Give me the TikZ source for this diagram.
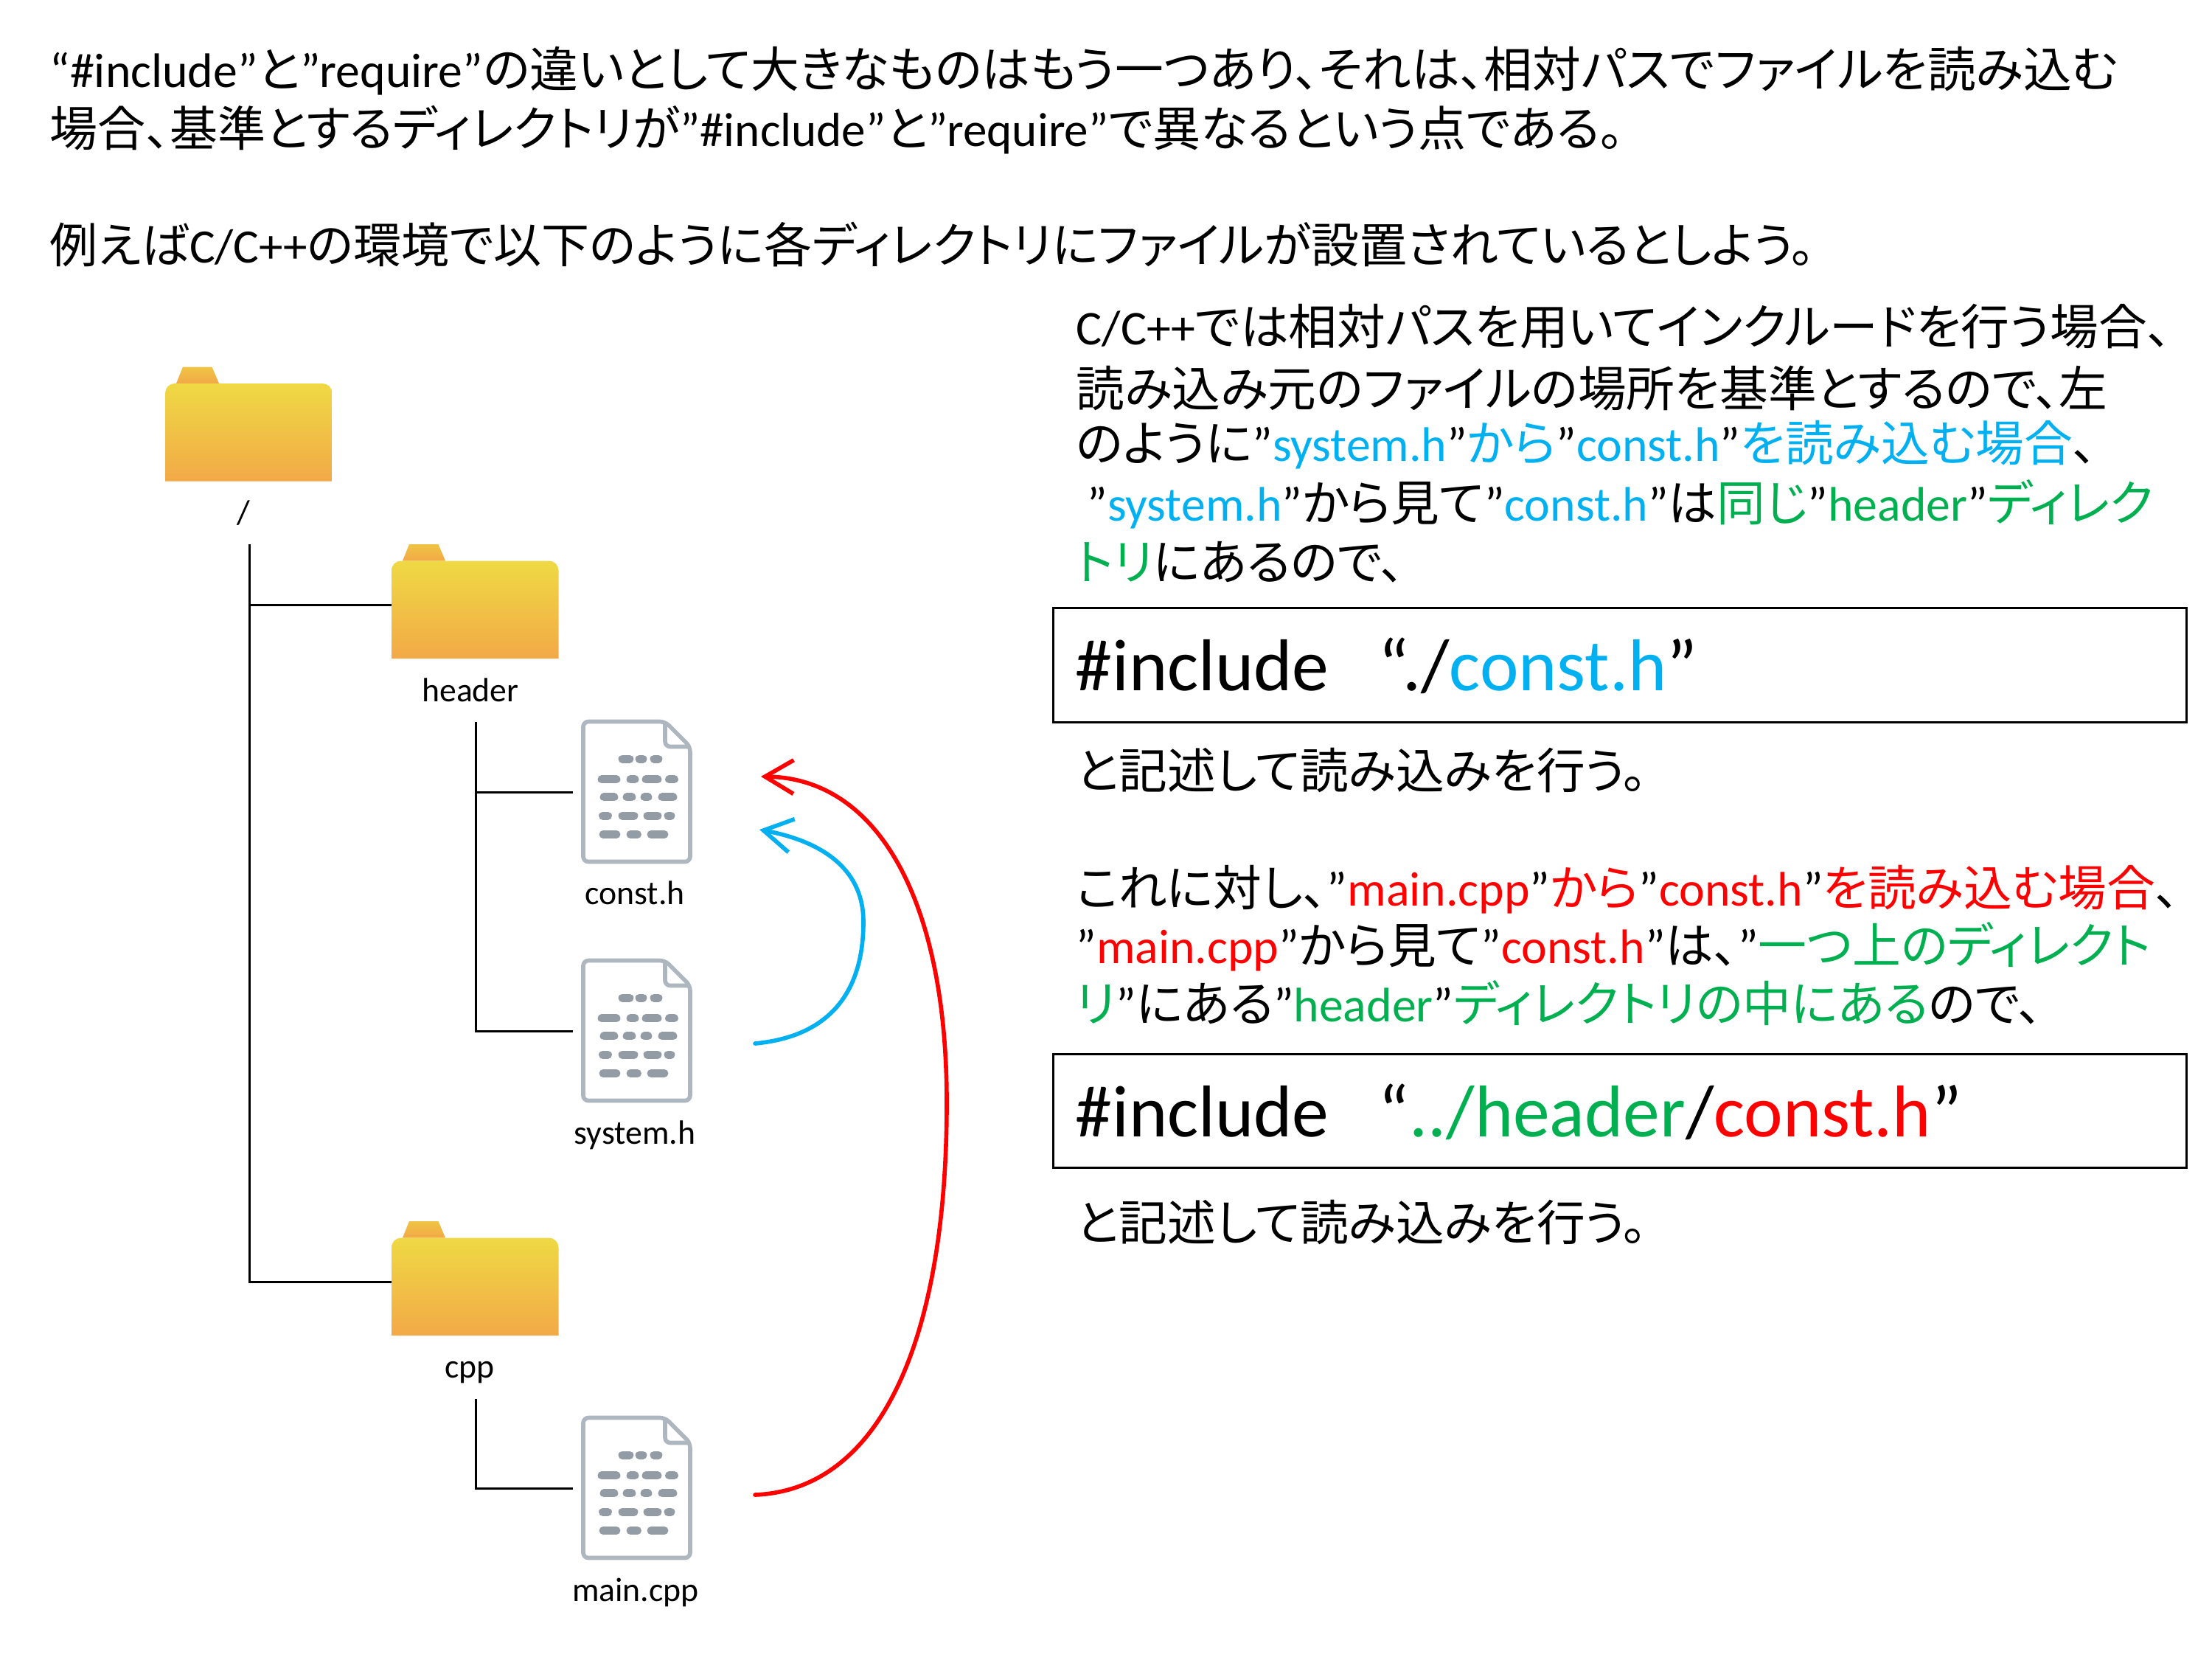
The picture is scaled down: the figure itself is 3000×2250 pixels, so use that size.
\documentclass[tikz,border=0pt]{standalone}
\usepackage{fontspec}
\setmainfont{Noto Sans CJK JP}[RawFeature=+palt]
\newfontfamily\carlito{Carlito}
\usetikzlibrary{arrows.meta}

\definecolor{bluetext}{HTML}{00B0F0}
\definecolor{greentext}{HTML}{00B050}
\definecolor{folderhi}{HTML}{EFD944}
\definecolor{folderlo}{HTML}{F2A947}
\definecolor{tabhi}{HTML}{EFC443}
\definecolor{fileline}{HTML}{AEB6BF}
\definecolor{filedot}{HTML}{939BA5}

\newcommand{\lat}[1]{{\carlito #1}}
\newcommand{\bl}[1]{\textcolor{bluetext}{#1}}
\newcommand{\gr}[1]{\textcolor{greentext}{#1}}
\newcommand{\rd}[1]{\textcolor{red}{#1}}

\tikzset{
  textline/.style={anchor=base west, inner sep=0pt, font=\fontsize{18.7}{22}\selectfont},
  introline/.style={textline, font=\fontsize{18.5}{22}\selectfont},
  codeline/.style={anchor=base west, inner sep=0pt, font=\fontsize{28.3}{34}\selectfont},
  codebox/.style={draw=black, line width=0.85pt},
  filelabel/.style={anchor=base, inner sep=0pt, font=\fontsize{13}{15}\selectfont\carlito},
  treeline/.style={draw=black, line width=0.85pt},
  curve/.style={line width=1.6pt, line cap=round, -{Straight Barb[length=11pt,width=13pt,line width=1.6pt]}},
  folder/.pic={
    \shade[top color=tabhi, bottom color=folderlo] (15,22.5) -- (24,0) -- (63.5,0) -- (73,22.5) -- cycle;
    \shade[top color=folderhi, bottom color=folderlo] (0,155) [rounded corners=3.7pt] -- (0,22.5) -- (226.5,22.5) [sharp corners] -- (226.5,155) -- cycle;
    \coordinate (-link) at (0,82.5);
  },
  fileicon/.pic={
    \draw[fileline, line width=1.6pt, rounded corners=2pt] (111,0) -- (0,0) -- (0,190) -- (145,190) -- (145,34) -- cycle;
    \draw[fileline, line width=1.6pt, rounded corners=2pt] (111,0) -- (111,34) -- (145,34);
    \foreach \ya/\xa/\xb in {50.6/49/67, 50.6/72/85, 50.6/92/106,
        78.3/21/49, 78.3/60/74, 78.3/81/105, 78.3/112.5/127.5,
        102.4/24/46, 102.4/55/70, 102.4/79/92, 102.4/103/126,
        127.7/22.5/37.5, 127.7/49/73, 127.7/83/105, 127.7/111/123,
        153/23/49, 153/60/77.5, 153/88/114}
      \draw[filedot, line width=3.1pt, line cap=round] (\xa+4,\ya) -- (\xb-4,\ya);
    \coordinate (-link) at (-14,96);
  }
}

\begin{document}
\begin{tikzpicture}[x=0.01cm,y=-0.01cm]
  \useasboundingbox (0,0) rectangle (3000,2250);
  %%%%% THE INTRODUCTION
  \node[textline] (introa) at (67,118) {\lat{“\#include”}と\lat{”require”}の違いとして大きなものはもう一つあり、それは、相対パスでファイルを読み込む};
  \node[introline] (introb) at (67,198) {場合、基準とするディレクトリが\lat{”\#include”}と\lat{”require”}で異なるという点である。};
  \node[introline] (introc) at (67,356) {例えば\lat{C/C++}の環境で以下のように各ディレクトリにファイルが設置されているとしよう。};
  %%%%% THE TREE
  \pic (rootfolder) at (224,497.5) {folder};
  \pic (headerfolder) at (531,738) {folder};
  \pic (cppfolder) at (531,1656) {folder};
  \pic (constfile) at (791,978.5) {fileicon};
  \pic (systemfile) at (791,1302.5) {fileicon};
  \pic (mainfile) at (791,1922.5) {fileicon};
  \node[filelabel] (rootlabel) at (330,710) {/};
  \node[filelabel] (headerlabel) at (638,951) {header};
  \node[filelabel] (cpplabel) at (637,1868.5) {cpp};
  \node[filelabel] (constlabel) at (861,1226.5) {const.h};
  \node[filelabel] (systemlabel) at (861,1551) {system.h};
  \node[filelabel] (mainlabel) at (862,2171) {main.cpp};
  % Node links within the tree
  \coordinate (rootstem) at (338.5,738);
  \coordinate (headerstem) at (645,979);
  \coordinate (cppstem) at (645,1897);
  \draw[treeline] (rootstem) |- (cppfolder-link);
  \draw[treeline] (rootstem |- headerfolder-link) -- (headerfolder-link);
  \draw[treeline] (headerstem) |- (systemfile-link);
  \draw[treeline] (headerstem |- constfile-link) -- (constfile-link);
  \draw[treeline] (cppstem) |- (mainfile-link);
  %%%%% THE CURVES
  \coordinate (bluefrom) at (1024,1415);
  \coordinate (blueto) at (1030,1125);
  \coordinate (redfrom) at (1024,2027);
  \coordinate (redto) at (1032,1053);
  \draw[curve, bluetext] (bluefrom) .. controls (1130,1405) and (1171,1340) .. (1171,1250) .. controls (1171,1175) and (1110,1140) .. (blueto);
  \draw[curve, red] (redfrom) .. controls (1195,2020) and (1284,1815) .. (1284,1495) .. controls (1284,1220) and (1190,1055) .. (redto);
  %%%%% THE TEXT ON THE RIGHT
  \node[textline] (samea) at (1459,467) {\lat{C/C++}では相対パスを用いてインクルードを行う場合、};
  \node[textline] (sameb) at (1459,551) {読み込み元のファイルの場所を基準とするので、左};
  \node[textline] (samec) at (1459,625) {のように\lat{”}\bl{\lat{system.h}}\lat{”}\bl{から}\lat{”}\bl{\lat{const.h}}\lat{”}\bl{を読み込む場合}、};
  \node[textline] (samed) at (1474,706) {\lat{”}\bl{\lat{system.h}}\lat{”}から見て\lat{”}\bl{\lat{const.h}}\lat{”}は\gr{同じ}\lat{”}\gr{\lat{header}}\lat{”}\gr{ディレク}};
  \node[textline] (samee) at (1459,786) {\gr{トリ}にあるので、};
  \draw[codebox] (1428.5,824) rectangle (2965,979);
  \node[codeline] (samecode) at (1458,936) {\carlito\#include\ \ \ “./\bl{const.h}”};
  \node[textline] (samef) at (1459,1069) {と記述して読み込みを行う。};
  \node[textline] (upa) at (1459,1228) {これに対し、\lat{”}\rd{\lat{main.cpp}}\lat{”}\rd{から}\lat{”}\rd{\lat{const.h}}\lat{”}\rd{を読み込む場合}、};
  \node[textline] (upb) at (1459,1306) {\lat{”}\rd{\lat{main.cpp}}\lat{”}から見て\lat{”}\rd{\lat{const.h}}\lat{”}は、\lat{”}\gr{一つ上のディレクト}};
  \node[textline] (upc) at (1459,1385) {\gr{リ}\lat{”}にある\lat{”}\gr{\lat{header}}\lat{”}\gr{ディレクトリの中にある}ので、};
  \draw[codebox] (1428.5,1429.5) rectangle (2965,1583);
  \node[codeline] (upcode) at (1458,1541.5) {\carlito\#include\ \ \ “\gr{../header}/\rd{const.h}”};
  \node[textline] (upd) at (1459,1682) {と記述して読み込みを行う。};
\end{tikzpicture}
\end{document}
